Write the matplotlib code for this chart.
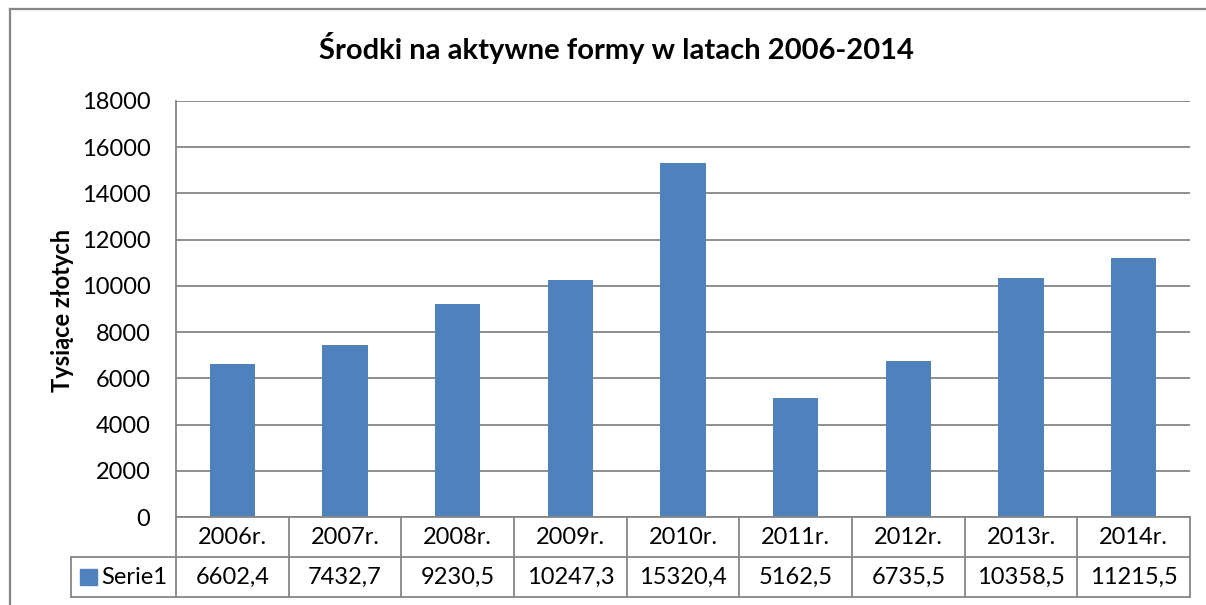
import matplotlib
matplotlib.use("Agg")
import matplotlib.pyplot as plt
from matplotlib.lines import Line2D
from matplotlib.patches import Rectangle
import matplotlib.transforms as mtransforms

categories = ["2006r.", "2007r.", "2008r.", "2009r.", "2010r.", "2011r.", "2012r.", "2013r.", "2014r."]
values = [6602.4, 7432.7, 9230.5, 10247.3, 15320.4, 5162.5, 6735.5, 10358.5, 11215.5]
series_name = "Serie1"
yticks = [0, 2000, 4000, 6000, 8000, 10000, 12000, 14000, 16000, 18000]
title = "Środki na aktywne formy w latach 2006-2014"
ylabel = "Tysiące złotych"

plt.rcParams['font.family'] = ['Lato', 'DejaVu Sans']

W, H = 1206, 605
fig = plt.figure(figsize=(W / 100, H / 100), dpi=100)
fig.patch.set_facecolor("white")

def fx(px):
    return px / W

def fy(py):
    return 1 - py / H

gray = "#868686"
bar_color = "#4F81BD"
fs = 17

# outer frame (cropped on right and bottom)
fig.add_artist(Line2D([fx(10), 1.0], [fy(9), fy(9)], color=gray, lw=1.6, transform=fig.transFigure))
fig.add_artist(Line2D([fx(10), fx(10)], [fy(9), 0.0], color=gray, lw=1.6, transform=fig.transFigure))

left, right, top, bottom = 176, 1190, 101, 517
ax = fig.add_axes([fx(left), fy(bottom), fx(right - left), (bottom - top) / H])
n = len(categories)
x = list(range(n))
ax.bar(x, values, width=0.4, color=bar_color, zorder=3)
ax.set_xlim(-0.5, n - 0.5)
ax.set_ylim(0, 18000)
ax.set_yticks(yticks)
ax.set_yticklabels([str(v) for v in yticks], fontsize=fs)
ax.tick_params(axis='y', length=0, pad=18.5)
ax.set_xticks([])
ax.grid(axis='y', color=gray, lw=1.3, zorder=0)
for s in ["top", "right", "bottom"]:
    ax.spines[s].set_visible(False)
ax.spines["left"].set_color(gray)
ax.spines["left"].set_linewidth(1.3)

fig.text(fx(616), fy(48), title, ha="center", va="center", fontsize=21, fontweight="bold")
fig.text(fx(62), fy(310), ylabel, ha="center", va="center", fontsize=17, fontweight="bold", rotation=90)

# data table
row1_top, row1_bot, row2_bot = 517, 557, 597
tl = 71
trans = mtransforms.blended_transform_factory(ax.transData, fig.transFigure)
kw = dict(color=gray, lw=1.3, clip_on=False)
fig.add_artist(Line2D([fx(left), fx(right)], [fy(row1_top), fy(row1_top)], transform=fig.transFigure, **kw))
fig.add_artist(Line2D([fx(tl), fx(right)], [fy(row1_bot), fy(row1_bot)], transform=fig.transFigure, **kw))
fig.add_artist(Line2D([fx(tl), fx(right)], [fy(row2_bot), fy(row2_bot)], transform=fig.transFigure, **kw))
fig.add_artist(Line2D([fx(tl), fx(tl)], [fy(row1_bot), fy(row2_bot)], transform=fig.transFigure, **kw))
for i in range(n + 1):
    xb = i - 0.5
    fig.add_artist(Line2D([xb, xb], [fy(row1_top), fy(row2_bot)], transform=trans, **kw))
for i, (c, v) in enumerate(zip(categories, values)):
    fig.text(i, fy((row1_top + row1_bot) / 2), c, transform=trans, ha="center", va="center", fontsize=fs)
    s = f"{v:.1f}".replace(".", ",")
    fig.text(i, fy((row1_bot + row2_bot) / 2), s, transform=trans, ha="center", va="center", fontsize=fs)
# legend key
fig.add_artist(Rectangle((fx(80), fy(585)), fx(17), 16 / H, color=bar_color, transform=fig.transFigure))
fig.text(fx(101), fy(577), series_name, ha="left", va="center", fontsize=fs)

fig.savefig("out.png", dpi=100, facecolor="white")
